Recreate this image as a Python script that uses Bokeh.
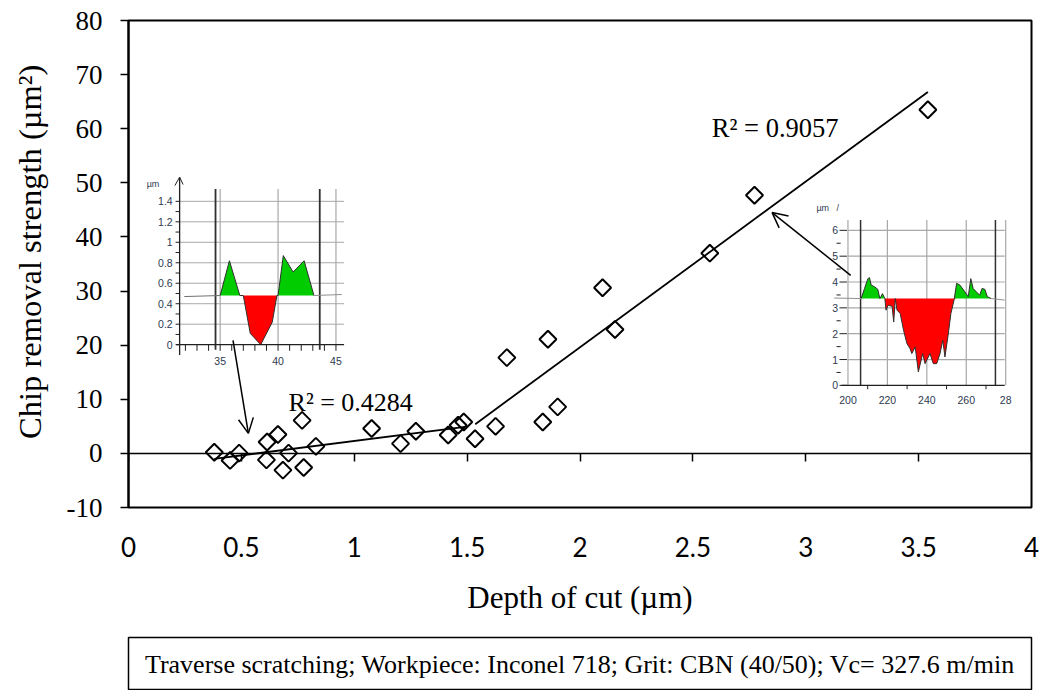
import numpy as np
from bokeh.plotting import figure
from bokeh.models import Range1d, Label, Arrow, OpenHead, FixedTicker, LinearAxis
from bokeh.layouts import column
from bokeh.core.properties import value
from bokeh.embed import file_html
from bokeh.resources import INLINE

# ---------------- main data ----------------
depth = [0.38, 0.45, 0.49, 0.611, 0.614, 0.662, 0.684, 0.709, 0.769, 0.776, 0.83,
         1.077, 1.205, 1.273, 1.416, 1.46, 1.485, 1.535, 1.626, 1.676, 1.835, 1.858,
         1.901, 2.10, 2.155, 2.575, 2.773, 3.541]
strength = [0.2, -1.3, 0.05, -1.2, 2.1, 3.5, -3.1, 0.05, 6.1, -2.6, 1.3,
            4.6, 1.8, 4.1, 3.4, 5.2, 5.8, 2.7, 5.0, 17.7, 5.8, 21.1,
            8.6, 30.6, 22.9, 37.0, 47.7, 63.5]

fit1_x = [0.38, 1.49]
fit1_y = [-1.0, 4.9]
fit2_x = [1.536, 3.541]
fit2_y = [5.4, 66.8]
r2_labels = ["R² = 0.4284", "R² = 0.9057"]

xtick_vals = [0, 0.5, 1, 1.5, 2, 2.5, 3, 3.5, 4]
xtick_labels = ["0", "0.5", "1", "1.5", "2", "2.5", "3", "3.5", "4"]
ytick_vals = [-10, 0, 10, 20, 30, 40, 50, 60, 70, 80]
ytick_labels = ["-10", "0", "10", "20", "30", "40", "50", "60", "70", "80"]

x_title = "Depth of cut (µm)"
y_title = "Chip removal strength (µm²)"
note_text = "Traverse scratching; Workpiece: Inconel 718; Grit: CBN (40/50); Vc= 327.6 m/min"

# ---------------- inset 1 (small scratch profile) ----------------
ins1_prof_x = [35.0, 35.8, 36.7, 37.0, 37.6, 38.5, 39.5, 39.9, 40.0, 40.45, 41.3, 42.25, 43.1]
ins1_prof_y = [0.48, 0.82, 0.48, 0.48, 0.11, 0.0, 0.22, 0.48, 0.48, 0.87, 0.71, 0.82, 0.48]
ins1_base = 0.48
ins1_lead_x = [31.9, 35.0]
ins1_lead_y = [0.47, 0.48]
ins1_tail_x = [43.1, 45.5]
ins1_tail_y = [0.48, 0.49]
ins1_yticks = [0, 0.2, 0.4, 0.6, 0.8, 1.0, 1.2, 1.4]
ins1_ylabels = ["0", "0.2", "0.4", "0.6", "0.8", "1", "1.2", "1.4"]
ins1_xticks = [35, 40, 45]
ins1_xlabels = ["35", "40", "45"]
ins1_window = [34.6, 43.6]

# ---------------- inset 2 (large scratch profile) ----------------
ins2_prof_x = [206.7, 208.4, 210.1, 210.9, 211.8, 213.4, 215.1, 216.2, 217.5, 218.7, 219.3,
               220.3, 222.4, 223.2, 224.0, 224.9, 226.5, 228.2, 229.9, 231.5, 232.4, 234.1,
               235.7, 237.9, 239.1, 241.6, 243.3, 245.0, 246.7, 248.1, 249.2, 250.9, 252.2,
               253.9, 255.1, 256.8, 259.3, 261.0, 262.3, 263.5, 265.1, 266.8, 268.0, 269.4,
               270.7, 272.7]
ins2_prof_y = [3.36, 3.75, 4.13, 4.17, 3.88, 3.82, 3.72, 3.36, 3.55, 3.36, 2.91,
               3.10, 3.06, 2.45, 3.36, 2.91, 2.78, 2.13, 1.62, 1.42, 1.23, 1.49,
               0.52, 1.23, 0.84, 1.23, 0.84, 0.84, 1.23, 1.75, 1.10, 2.0, 2.78,
               3.33, 3.95, 3.88, 3.62, 3.43, 4.13, 3.75, 3.62, 3.49, 3.75, 3.72,
               3.43, 3.36]
ins2_base = 3.36
ins2_lead_x = [193.0, 206.7]
ins2_lead_y = [3.38, 3.36]
ins2_tail_x = [272.7, 279.5]
ins2_tail_y = [3.36, 3.30]
ins2_yticks = [0, 1, 2, 3, 4, 5, 6]
ins2_ylabels = ["0", "1", "2", "3", "4", "5", "6"]
ins2_xticks = [200, 220, 240, 260, 280]
ins2_xlabels = ["200", "220", "240", "260", "28"]
ins2_window = [206.4, 274.8]

SERIF = "Liberation Serif"
GREEN = "#00cc00"
RED = "#ff0000"
GRID = "#a8a8a8"
INK = "#2e3a50"

p = figure(width=1043, height=629, x_range=Range1d(0, 4), y_range=Range1d(-10, 80),
           output_backend="svg", toolbar_location=None,
           min_border_left=128, min_border_right=5, min_border_top=20, min_border_bottom=122)
p.background_fill_color = "white"
p.border_fill_color = "white"
p.outline_line_color = "black"
p.outline_line_width = 2
p.grid.visible = False

x_overrides = {float(v): s for v, s in zip(xtick_vals, xtick_labels)}

# x axis line + ticks drawn at y = 0 (no labels)
xa = p.xaxis[0]
xa.fixed_location = 0
xa.ticker = FixedTicker(ticks=xtick_vals)
xa.major_tick_out = 8
xa.major_tick_in = 0
xa.minor_tick_out = 0
xa.minor_tick_in = 0
xa.axis_line_width = 1.5
xa.major_tick_line_width = 1.5
xa.major_label_text_font_size = "0px"
xa.major_label_text_alpha = 0

# labels and title below the frame
xl = LinearAxis(ticker=FixedTicker(ticks=xtick_vals), major_label_overrides=x_overrides)
xl.axis_line_color = None
xl.major_tick_line_color = None
xl.minor_tick_line_color = None
xl.major_tick_out = 0
xl.major_tick_in = 0
xl.minor_tick_out = 0
xl.minor_tick_in = 0
xl.major_label_standoff = 29
xl.major_label_text_font = "Lato"
xl.major_label_text_font_size = "26px"
xl.major_label_text_color = "black"
xl.axis_label = x_title
xl.axis_label_text_font = SERIF
xl.axis_label_text_font_size = "31px"
xl.axis_label_text_font_style = "normal"
xl.axis_label_text_color = "black"
xl.axis_label_standoff = 20
p.add_layout(xl, "below")

ya = p.yaxis[0]
ya.ticker = FixedTicker(ticks=ytick_vals)
ya.major_label_overrides = {v: s for v, s in zip(ytick_vals, ytick_labels)}
ya.major_tick_out = 8
ya.major_tick_in = 0
ya.minor_tick_out = 0
ya.minor_tick_in = 0
ya.axis_line_width = 2
ya.major_tick_line_width = 1.5
ya.major_label_standoff = 18
ya.major_label_text_font = SERIF
ya.major_label_text_font_size = "27px"
ya.major_label_text_color = "black"
ya.axis_label = "\u00a0\u00a0\u00a0" + y_title
ya.axis_label_text_font = SERIF
ya.axis_label_text_font_size = "32.5px"
ya.axis_label_text_font_style = "normal"
ya.axis_label_text_color = "black"
ya.axis_label_standoff = 16

# trend lines
p.line(fit1_x, fit1_y, line_color="black", line_width=1.8)
p.line(fit2_x, fit2_y, line_color="black", line_width=1.8)

# data points (hollow diamonds)
p.scatter(depth, strength, marker="square", angle=np.pi / 4, size=12,
          fill_color=None, line_color="black", line_width=2)

# R^2 labels
p.add_layout(Label(x=0.709, y=9.4, text=r2_labels[0], text_font=SERIF,
                   text_font_size="26px", text_color="black", text_baseline="alphabetic"))
p.add_layout(Label(x=2.584, y=60.1, text=r2_labels[1], text_font=SERIF,
                   text_font_size="26.5px", text_color="black", text_baseline="alphabetic"))

# arrows from insets
p.add_layout(Arrow(end=OpenHead(size=15, line_width=1.5, line_color="black"),
                   x_start=0.463, y_start=20.9, x_end=0.531, y_end=3.7,
                   line_width=1.5, line_color="black"))
p.add_layout(Arrow(end=OpenHead(size=15, line_width=1.5, line_color="black"),
                   x_start=3.199, y_start=32.9, x_end=2.851, y_end=44.5,
                   line_width=1.5, line_color="black"))


def txt(g, xs, ys, texts, align, baseline="middle", size="10.5px"):
    g.text(x=xs, y=ys, text=texts, text_font=value("Liberation Sans"),
           text_font_size=value(size), text_color=INK,
           text_align=align, text_baseline=baseline)


# ---------- inset 1 ----------
g1 = p.subplot(x_source=Range1d(35, 45), y_source=Range1d(0, 1.4),
               x_target=Range1d(0.406, 0.919), y_target=Range1d(20.09, 46.58))
g1.multi_line(xs=[[31.5, 45.7] for v in ins1_yticks[1:]],
              ys=[[v, v] for v in ins1_yticks[1:]], line_color=GRID, line_width=1)
g1.multi_line(xs=[[v, v] for v in ins1_xticks], ys=[[0, 1.52] for v in ins1_xticks],
              line_color=GRID, line_width=1.2)
g1.multi_line(xs=[[v, v] for v in ins1_window], ys=[[-0.05, 1.52] for v in ins1_window],
              line_color="#303030", line_width=1.8)
b1 = np.full(len(ins1_prof_x), ins1_base)
g1.varea(x=ins1_prof_x, y1=b1, y2=np.maximum(ins1_prof_y, ins1_base), fill_color=GREEN)
g1.varea(x=ins1_prof_x, y1=np.minimum(ins1_prof_y, ins1_base), y2=b1, fill_color=RED)
g1.line(ins1_prof_x, ins1_prof_y, line_color="#303030", line_width=1)
g1.line(ins1_lead_x, ins1_lead_y, line_color="#707070", line_width=1)
g1.line(ins1_tail_x, ins1_tail_y, line_color="#909090", line_width=1)
g1.segment(x0=[31.5, 31.2], y0=[-0.1, 0], x1=[31.5, 45.7], y1=[1.636, 0],
           line_color="#202020", line_width=1.3)
g1.segment(x0=[31.09, 31.8], y0=[1.554, 1.564], x1=[31.5, 31.5], y1=[1.636, 1.636],
           line_color="#202020", line_width=1)
yminor1 = [i / 10 for i in range(0, 15)]
g1.segment(x0=[31.15] * len(yminor1), y0=yminor1, x1=[31.5] * len(yminor1), y1=yminor1,
           line_color="#202020", line_width=1)
xminor1 = list(range(32, 46))
g1.segment(x0=xminor1, y0=[0] * len(xminor1), x1=xminor1, y1=[-0.06] * len(xminor1),
           line_color="#202020", line_width=1)
txt(g1, [30.9] * len(ins1_yticks), ins1_yticks, ins1_ylabels, "right")
txt(g1, ins1_xticks, [-0.155] * len(ins1_xticks), ins1_xlabels, "center")
txt(g1, [29.2], [1.57], ["µm"], "center", size="9px")

# ---------- inset 2 ----------
g2 = p.subplot(x_source=Range1d(200, 260), y_source=Range1d(0, 6),
               x_target=Range1d(3.187, 3.711), y_target=Range1d(12.57, 41.22))
g2.multi_line(xs=[[200, 279.5] for v in ins2_yticks[1:]],
              ys=[[v, v] for v in ins2_yticks[1:]], line_color=GRID, line_width=1.2)
g2.multi_line(xs=[[v, v] for v in ins2_xticks], ys=[[0, 6.4] for v in ins2_xticks],
              line_color=GRID, line_width=1.2)
g2.multi_line(xs=[[v, v] for v in ins2_window], ys=[[0, 6.4] for v in ins2_window],
              line_color="#303030", line_width=1.5)
b2 = np.full(len(ins2_prof_x), ins2_base)
g2.varea(x=ins2_prof_x, y1=b2, y2=np.maximum(ins2_prof_y, ins2_base), fill_color=GREEN)
g2.varea(x=ins2_prof_x, y1=np.minimum(ins2_prof_y, ins2_base), y2=b2, fill_color=RED)
g2.line(ins2_prof_x, ins2_prof_y, line_color="#303030", line_width=1)
g2.line(ins2_lead_x, ins2_lead_y, line_color="#909090", line_width=1)
g2.line(ins2_tail_x, ins2_tail_y, line_color="#909090", line_width=1)
g2.segment(x0=[196.7], y0=[0], x1=[279.5], y1=[0], line_color="#202020", line_width=1.3)
g2.segment(x0=[195.7] * len(ins2_yticks), y0=ins2_yticks, x1=[199.5] * len(ins2_yticks),
           y1=ins2_yticks, line_color="#202020", line_width=1)
yminor2 = [v + 0.5 for v in ins2_yticks[:-1]]
g2.segment(x0=[194.2] * len(yminor2), y0=yminor2, x1=[196.3] * len(yminor2), y1=yminor2,
           line_color="#202020", line_width=1)
xminor2 = [210, 230, 250, 270]
g2.segment(x0=xminor2, y0=[0] * len(xminor2), x1=xminor2, y1=[-0.15] * len(xminor2),
           line_color="#202020", line_width=1)
txt(g2, [195.0] * len(ins2_yticks), ins2_yticks, ins2_ylabels, "right")
txt(g2, ins2_xticks, [-0.58] * len(ins2_xticks), ins2_xlabels, "center")
txt(g2, [187.2, 194.8], [6.86, 6.86], ["µm", "/"], "center", size="9px")

# ---------------- note box ----------------
p2 = figure(width=1043, height=61, x_range=Range1d(0, 1), y_range=Range1d(0, 1),
            output_backend="svg", toolbar_location=None,
            min_border_left=121, min_border_right=12, min_border_top=8, min_border_bottom=0)
p2.axis.visible = False
p2.grid.visible = False
p2.outline_line_color = "black"
p2.outline_line_width = 1.5
p2.background_fill_color = "white"
p2.border_fill_color = "white"
p2.add_layout(Label(x=0.5, y=0.5, text=note_text, text_font=SERIF, text_font_size="26px",
                    text_color="black", text_align="center", text_baseline="middle"))

layout = column(p, p2, spacing=0)
open("out.html", "w").write(file_html(layout, INLINE))
